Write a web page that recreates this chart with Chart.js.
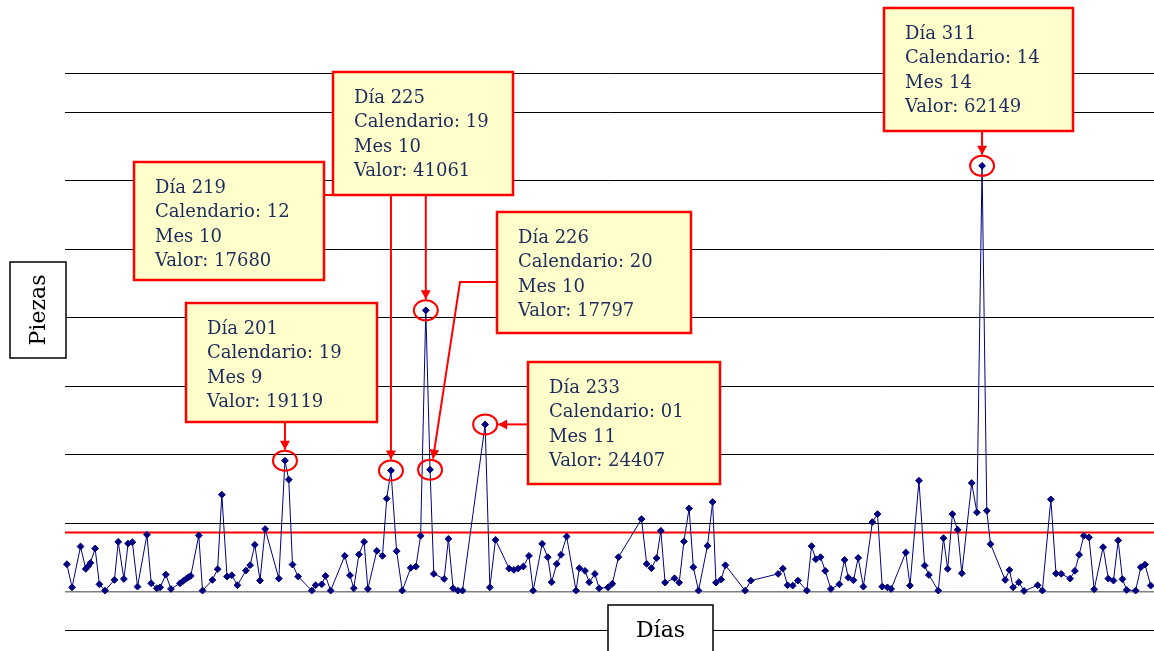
<!DOCTYPE html>
<html lang="es">
<head>
<meta charset="utf-8">
<title>Piezas por día</title>
<script src="https://cdn.jsdelivr.net/npm/chart.js@4.4.1/dist/chart.umd.min.js"></script>
<style>
  html, body { margin: 0; padding: 0; background: #fff; }
  #contenedor { position: relative; width: 1154px; height: 651px; }
</style>
</head>
<body>
<div id="contenedor"><canvas id="grafico"></canvas></div>
<script>
// posición de cada registro en días de calendario (1 = 1 de enero) y piezas producidas
const dias = [
  215.7, 216.8, 218.6, 219.7, 220.2, 220.7, 221.7, 222.6, 223.8, 225.8,
  226.6, 227.8, 228.7, 229.6, 230.7, 232.7, 233.6, 234.8, 235.5, 236.7,
  237.8, 239.7, 240.4, 241.0, 241.5, 242.0, 243.7, 244.5, 246.6, 247.7,
  248.6, 249.7, 250.7, 251.9, 253.7, 254.6, 255.6, 256.7, 257.8, 260.7,
  262.0, 262.8, 263.6, 264.8, 267.7, 268.5, 269.8, 270.6, 271.7, 274.7,
  275.8, 276.6, 277.7, 278.8, 279.6, 281.5, 282.7, 283.6, 284.5, 285.7,
  286.9, 288.7, 289.8, 290.8, 291.9, 292.8, 293.6, 295.8, 296.7, 297.7,
  298.7, 299.7, 304.5, 305.5, 306.7, 309.6, 310.6, 311.5, 312.6, 313.8,
  314.7, 316.6, 317.8, 318.6, 319.7, 320.6, 321.8, 323.8, 324.5, 325.7,
  326.6, 327.8, 328.7, 330.6, 331.5, 332.8, 337.7, 338.8, 339.8, 340.9,
  341.8, 342.7, 344.7, 345.7, 346.7, 347.8, 348.7, 349.8, 351.7, 352.8,
  353.5, 354.6, 355.5, 359.7, 360.9, 366.7, 367.7, 368.7, 369.8, 370.9,
  372.8, 373.8, 374.7, 375.7, 376.7, 377.9, 379.7, 380.8, 381.6, 382.7,
  383.7, 384.8, 386.7, 387.8, 388.8, 389.9, 390.7, 393.8, 394.7, 396.6,
  397.8, 398.7, 400.7, 401.8, 402.7, 403.7, 404.8, 405.7, 407.8, 408.9,
  410.0, 411.0, 411.8, 414.9, 415.8, 416.6, 417.8, 418.9, 421.8, 422.8,
  424.6, 425.7, 426.8, 428.7, 429.7, 430.6, 431.6, 432.7, 433.8, 435.7,
  436.8, 437.9, 438.9, 439.8, 440.7, 442.6, 443.7, 444.6, 445.8
];
const piezas = [
  4000, 630, 6590, 3320, 3710, 4200, 6300, 1070, 150, 1710,
  7270, 1850, 7030, 7220, 730, 8300, 1220, 490, 630, 2490,
  390, 1220, 1560, 1850, 2100, 2290, 8200, 150, 1710, 3270,
  14150, 2200, 2390, 930, 3070, 3860, 6830, 1610, 9130, 1900,
  19119, 16350, 3950, 2200, 150, 930, 1070, 2290, 150, 5220,
  2390, 490, 5420, 7270, 390, 5950, 5220, 13570, 17680, 5900,
  150, 3470, 3660, 8150, 41061, 17797, 2590, 1850, 7710, 490,
  150, 150, 24407, 630, 7560, 3370, 3170, 3370, 3660, 5220,
  150, 6980, 5030, 1370, 4050, 5370, 8050, 150, 3420, 3030,
  1370, 2590, 490, 630, 1150, 5030, 10590, 4050, 3420, 4880,
  8880, 1320, 1950, 1320, 7320, 12150, 3560, 150, 6690, 13080,
  1320, 1760, 3850, 150, 1610, 2590, 3370, 930, 880, 1610,
  150, 6640, 4730, 5030, 3030, 390, 1070, 4640, 2050, 1660,
  4930, 730, 10150, 11320, 730, 630, 390, 5710, 880, 16200,
  3810, 2440, 150, 7810, 3320, 11320, 9030, 2680, 15860, 11570,
  62149, 11810, 6930, 1710, 3170, 630, 1370, 100, 930, 150,
  13470, 2640, 2590, 1900, 3030, 5370, 8150, 7910, 340, 6490,
  1900, 1610, 7470, 1810, 240, 150, 3560, 3950, 880
];
const limite = 8640;

// marcas del eje Y (la primera y la última cierran el área de trazado)
const marcasY = [-5600, 0, 10000, 20000, 30000, 40000, 50000, 60000, 70000, 75700];
const rangoX = [215.3, 446.5];

// días destacados
const notaDia = [201, 219, 225, 226, 233, 311];
const notaCalendario = ['19', '12', '19', '20', '01', '14'];
const notaMes = [9, 10, 10, 10, 11, 14];
const notaValor = [19119, 17680, 41061, 17797, 24407, 62149];

// colocación de los recuadros y tipo de flecha
const cajas = [
  { x: 186, y: 303, w: 191, h: 119, ruta: 'abajo' },
  { x: 134, y: 162, w: 190, h: 118, ruta: 'derecha' },
  { x: 333, y: 72,  w: 180, h: 123, ruta: 'abajo' },
  { x: 497, y: 212, w: 194, h: 121, ruta: 'izquierda' },
  { x: 528, y: 362, w: 192, h: 122, ruta: 'lado' },
  { x: 884, y: 8,   w: 189, h: 123, ruta: 'abajo' }
];

const ROJO = '#ff0000';
const TEXTO = '#1b2b5e';
const SERIF = '"DejaVu Serif", "Liberation Serif", serif';

function flecha(ctx, pts) {
  ctx.beginPath();
  ctx.moveTo(pts[0][0], pts[0][1]);
  for (let i = 1; i < pts.length; i++) ctx.lineTo(pts[i][0], pts[i][1]);
  ctx.stroke();
  const [x1, y1] = pts[pts.length - 2];
  const [x2, y2] = pts[pts.length - 1];
  const a = Math.atan2(y2 - y1, x2 - x1);
  const largo = 9, ancho = 5;
  ctx.beginPath();
  ctx.moveTo(x2, y2);
  ctx.lineTo(x2 - largo * Math.cos(a) + ancho * Math.sin(a), y2 - largo * Math.sin(a) - ancho * Math.cos(a));
  ctx.lineTo(x2 - largo * Math.cos(a) - ancho * Math.sin(a), y2 - largo * Math.sin(a) + ancho * Math.cos(a));
  ctx.closePath();
  ctx.fill();
}

function cajaTitulo(ctx, x, y, w, h, texto, vertical) {
  ctx.fillStyle = '#fff';
  ctx.fillRect(x, y, w, h);
  ctx.strokeStyle = '#000';
  ctx.lineWidth = 1.5;
  ctx.strokeRect(x, y, w, h);
  ctx.save();
  ctx.fillStyle = '#000';
  ctx.font = '22px ' + SERIF;
  ctx.textAlign = 'center';
  ctx.textBaseline = 'middle';
  if (vertical) {
    ctx.translate(x + w / 2 + 1, y + h / 2);
    ctx.rotate(-Math.PI / 2);
    ctx.fillText(texto, 0, 0);
  } else {
    ctx.fillText(texto, x + w / 2, y + 26);
  }
  ctx.restore();
}

const notas = {
  id: 'notas',
  afterDatasetsDraw(chart) {
    const ctx = chart.ctx;
    const xs = chart.scales.x, ys = chart.scales.y;
    ctx.save();
    notaValor.forEach((valor, i) => {
      const k = piezas.indexOf(valor);
      const px = xs.getPixelForValue(dias[k]);
      const py = ys.getPixelForValue(valor);
      const c = cajas[i];

      ctx.strokeStyle = ROJO;
      ctx.fillStyle = ROJO;
      ctx.lineWidth = 2;
      ctx.beginPath();
      ctx.ellipse(px, py, 12, 10, 0, 0, Math.PI * 2);
      ctx.stroke();

      let pts;
      if (c.ruta === 'abajo') {
        pts = [[px, c.y + c.h], [px, py - 11]];
      } else if (c.ruta === 'derecha') {
        pts = [[c.x + c.w, c.y + 33], [px, c.y + 33], [px, py - 11]];
      } else if (c.ruta === 'izquierda') {
        pts = [[c.x, c.y + 70], [c.x - 37, c.y + 70], [px + 3, py - 11]];
      } else {
        pts = [[c.x, py], [px + 13, py]];
      }
      flecha(ctx, pts);

      ctx.fillStyle = '#ffffcc';
      ctx.fillRect(c.x, c.y, c.w, c.h);
      ctx.lineWidth = 2.5;
      ctx.strokeRect(c.x, c.y, c.w, c.h);

      ctx.fillStyle = TEXTO;
      ctx.font = '18px ' + SERIF;
      ctx.textAlign = 'left';
      ctx.textBaseline = 'alphabetic';
      const lineas = [
        'Día ' + notaDia[i],
        'Calendario: ' + notaCalendario[i],
        'Mes ' + notaMes[i],
        'Valor: ' + notaValor[i]
      ];
      lineas.forEach((t, j) => ctx.fillText(t, c.x + 21, c.y + 31 + j * 24.3));
    });
    ctx.restore();
  },
  afterDraw(chart) {
    const ctx = chart.ctx;
    ctx.save();
    cajaTitulo(ctx, 10, 262, 56, 96, 'Piezas', true);
    cajaTitulo(ctx, 608, 605, 105, 60, 'Días', false);
    ctx.restore();
  }
};

const serie = dias.map((d, i) => ({ x: d, y: piezas[i] }));

new Chart(document.getElementById('grafico'), {
  type: 'scatter',
  data: {
    datasets: [
      {
        label: 'Piezas',
        data: serie,
        showLine: true,
        borderColor: '#000080',
        borderWidth: 1,
        backgroundColor: '#000080',
        pointStyle: 'rectRot',
        pointRadius: 3.4,
        pointBorderWidth: 1,
        clip: false
      },
      {
        label: 'Límite',
        data: [{ x: rangoX[0], y: limite }, { x: rangoX[1], y: limite }],
        showLine: true,
        borderColor: ROJO,
        borderWidth: 2,
        pointRadius: 0
      }
    ]
  },
  options: {
    responsive: true,
    maintainAspectRatio: false,
    animation: false,
    layout: { autoPadding: false, padding: { left: 65, right: 0, top: 73, bottom: 21 } },
    plugins: { legend: { display: false }, tooltip: { enabled: false } },
    scales: {
      x: {
        type: 'linear',
        min: rangoX[0],
        max: rangoX[1],
        display: false
      },
      y: {
        min: marcasY[0],
        max: marcasY[marcasY.length - 1],
        afterBuildTicks: (scale) => { scale.ticks = marcasY.map(v => ({ value: v })); },
        ticks: { display: false },
        border: { display: false },
        grid: {
          drawTicks: false,
          lineWidth: (c) => (c.tick && c.tick.value === 0 ? 1.5 : 1),
          color: (c) => (c.tick && c.tick.value === 0 ? '#808080' : '#000000')
        }
      }
    }
  },
  plugins: [notas]
});
</script>
</body>
</html>
